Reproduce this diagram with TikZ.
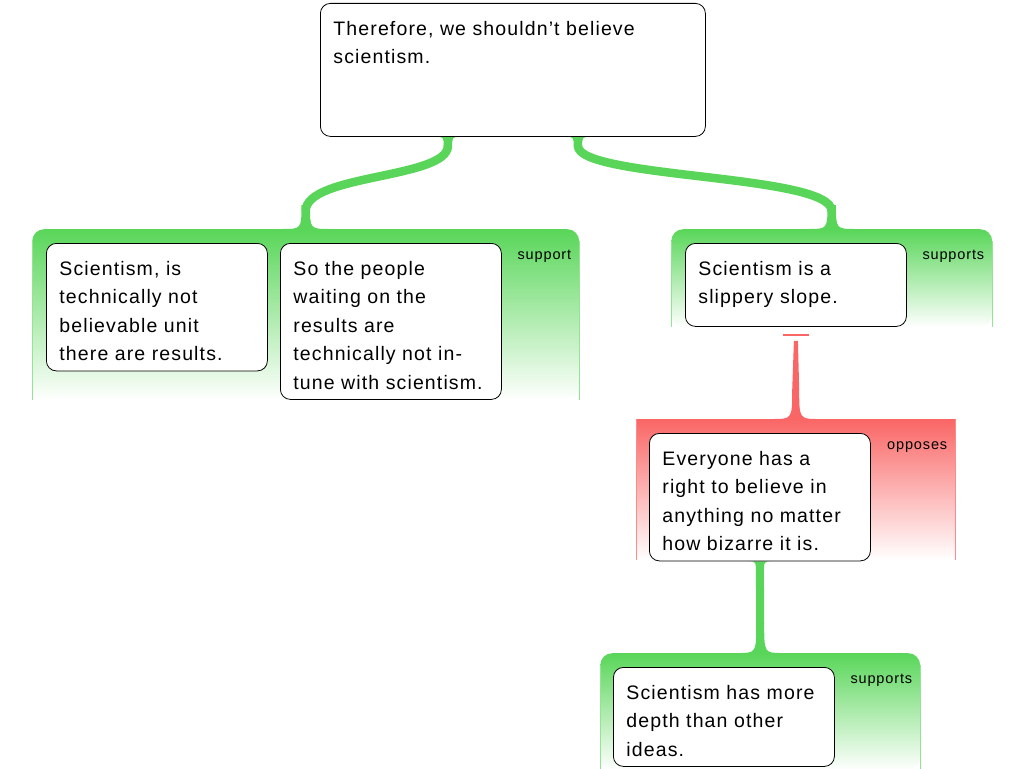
\documentclass[tikz,border=0pt]{standalone}
\usepackage{fontspec}
\setmainfont{Liberation Sans}
\newfontfamily\cardfamily[LetterSpace=5.8]{Liberation Sans}
\newfontfamily\tagfamily[LetterSpace=6]{Liberation Sans}
\usetikzlibrary{calc}
\pgfdeclarelayer{background}
\pgfsetlayers{background,main}
\definecolor{grn}{RGB}{89,214,89}
\definecolor{opp}{RGB}{250,102,102}
\newcommand{\cardfont}{\cardfamily\fontsize{19.5pt}{28.5pt}\selectfont}
\newcommand{\tagfont}{\tagfamily\fontsize{14.5pt}{17pt}\selectfont}
% concave foot of a link: point, half width, spread, height
\newcommand{\fillet}[4]{%
  \fill ($(#1)+(-#2-#3,0)$) .. controls ($(#1)+(-#2,0)$) .. ($(#1)+(-#2,#4)$)
    -- ($(#1)+(#2,#4)$) .. controls ($(#1)+(#2,0)$) .. ($(#1)+(#2+#3,0)$) -- cycle;}
% S-shaped support link
\newcommand{\prolink}[2]{%
  \draw[line width=8.5pt] ($(#1)+(0,9)$) .. controls ($(#1)+(0,42)$) and ($(#2)+(0,-55)$) .. ($(#2)+(0,-18)$);
  \fillet{#1}{4.25}{9}{10}
  \fillet{#2}{4.25}{20}{-24}}
\begin{document}
\begin{tikzpicture}[x=1pt, y=-1pt,
    card/.style={draw, fill=white, rounded corners=10pt, line width=0.8pt,
      anchor=north west, inner xsep=13pt, inner ysep=6.75pt, align=left,
      text width=195pt, font=\cardfont,
      execute at begin node={\rule{0pt}{25.25pt}},
      execute at end node={\rule[-#1]{0pt}{#1}}},
    pro/.style={anchor=north west, inner sep=0pt, rounded corners=12pt,
      top color=grn, bottom color=white},
    con/.style={anchor=north west, inner sep=0pt, top color=opp, bottom color=white},
    tag/.style={anchor=base east, inner sep=0pt, font=\tagfont}]
\useasboundingbox (0,0) rectangle (1024,768);

\node[card=65.75pt, text width=359pt] (concl) at (320,3) {Therefore, we shouldn’t believe\\scientism.};
\node[card=3.25pt] (boxa) at (46,243) {Scientism, is\\technically not\\believable unit\\there are results.};
\node[card=3.25pt] (boxb) at (280,243) {So the people\\waiting on the\\results are\\technically not in-\\tune with scientism.};
\node[card=15.75pt] (boxc) at (685,243) {Scientism is a\\slippery slope.};
\node[card=3.25pt] (boxd) at (649,433) {Everyone has a\\right to believe in\\anything no matter\\how bizarre it is.};
\node[card=3.25pt] (boxe) at (613,667) {Scientism has more\\depth than other\\ideas.};

\begin{pgfonlayer}{background}
\node[pro, minimum width=547pt, minimum height=171pt] (grpa) at (32,229) {};
\node[pro, minimum width=321pt, minimum height=98pt] (grpb) at (671,229) {};
\node[con, minimum width=319pt, minimum height=141pt] (grpc) at (636,419) {};
\node[pro, minimum width=320pt, minimum height=117pt] (grpd) at (600,653) {};
\foreach \g in {grpa,grpb,grpd} {
  \draw[grn!65] ($(\g.north west)+(0.5,12)$) -- ($(\g.south west)+(0.5,0)$);
  \draw[grn!65] ($(\g.north east)+(-0.5,12)$) -- ($(\g.south east)+(-0.5,0)$);
}
\draw[opp!75] ($(grpc.north west)+(0.5,0)$) -- ($(grpc.south west)+(0.5,0)$);
\draw[opp!75] ($(grpc.north east)+(-0.5,0)$) -- ($(grpc.south east)+(-0.5,0)$);

% links
\coordinate (la) at ($(concl.south)+(-65,0)$);
\coordinate (lb) at ($(concl.south)+(65,0)$);
\begin{scope}[grn]
\prolink{la}{grpa.north}
\prolink{lb}{grpb.north}
\draw[line width=8pt] ($(boxd.south)+(0,11)$) -- ($(grpd.north)+(0,-29)$);
\fillet{boxd.south}{4}{8.5}{12}
\fillet{grpd.north}{4}{18}{-30}
\end{scope}
\begin{scope}[opp]
\draw[line width=1.5pt] ($(boxc.south)+(-13,8)$) -- ($(boxc.south)+(13,8)$);
\fill ($(boxc.south)+(-2,14)$) -- ($(boxc.south)+(2,14)$) -- ($(grpc.north)+(3.5,-29)$) -- ($(grpc.north)+(-3.5,-29)$) -- cycle;
\fillet{grpc.north}{3.5}{20}{-30}
\end{scope}
\end{pgfonlayer}

\node[tag] (taga) at ($(grpa.north east)+(-8,30)$) {support};
\node[tag] (tagb) at ($(grpb.north east)+(-8,30)$) {supports};
\node[tag] (tagc) at ($(grpc.north east)+(-8,30)$) {opposes};
\node[tag] (tagd) at ($(grpd.north east)+(-8,30)$) {supports};
\end{tikzpicture}
\end{document}
